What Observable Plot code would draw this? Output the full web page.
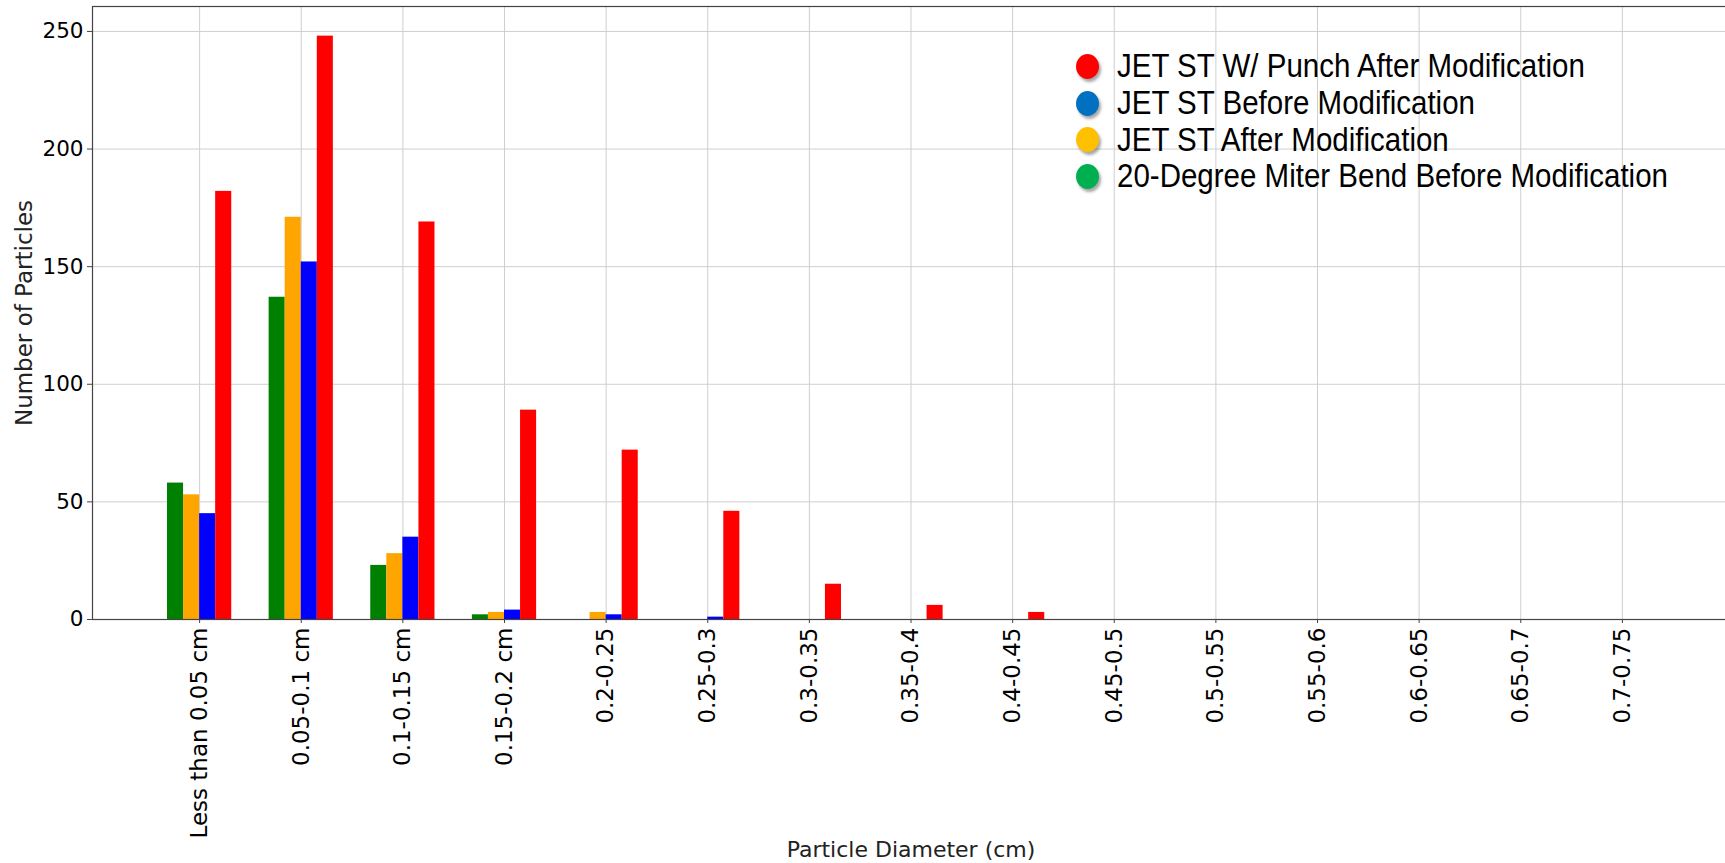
<!DOCTYPE html>
<html>
<head>
<meta charset="utf-8">
<script src="https://cdn.jsdelivr.net/npm/d3@7"></script>
<script src="https://cdn.jsdelivr.net/npm/@observablehq/plot@0.6"></script>
<style>
  html, body { margin: 0; padding: 0; background: #fff; overflow: hidden; }
  #wrap { position: relative; width: 1725px; height: 863px; overflow: hidden; }
  #wrap svg { max-width: none; display: block; }
  #legend { position: absolute; left: 1076px; top: 48px; font-family: "Liberation Sans", Arial, sans-serif; font-size: 29.5px; color: #000; }
  .row { display: flex; align-items: center; height: 36.7px; white-space: nowrap; }
  .row span.t { display: inline-block; transform: scaleY(1.1); transform-origin: center; }
  .mk { width: 23px; height: 25px; border-radius: 50%; box-shadow: 2px 3px 3px rgba(0,0,0,0.35); margin-right: 18px; flex: none; }
</style>
</head>
<body>
<div id="wrap"></div>
<script>
// ---- data ----
const categories = ["Less than 0.05 cm", "0.05-0.1 cm", "0.1-0.15 cm", "0.15-0.2 cm", "0.2-0.25", "0.25-0.3", "0.3-0.35", "0.35-0.4", "0.4-0.45", "0.45-0.5", "0.5-0.55", "0.55-0.6", "0.6-0.65", "0.65-0.7", "0.7-0.75"];
const miterBefore = [58, 137, 23, 2, 0, 0, 0, 0, 0, 0, 0, 0, 0, 0, 0];
const jetAfter    = [53, 171, 28, 3, 3, 0, 0, 0, 0, 0, 0, 0, 0, 0, 0];
const jetBefore   = [45, 152, 35, 4, 2, 1, 0, 0, 0, 0, 0, 0, 0, 0, 0];
const jetPunch    = [182, 248, 169, 89, 72, 46, 15, 6, 3, 0, 0, 0, 0, 0, 0];
const seriesNames = ["20-Degree Miter Bend Before Modification", "JET ST After Modification", "JET ST Before Modification", "JET ST W/ Punch After Modification"];
const seriesValues = [miterBefore, jetAfter, jetBefore, jetPunch];
const barColors = ["#008000", "#ffa500", "#0000ff", "#ff0000"];
const legendNames = ["JET ST W/ Punch After Modification", "JET ST Before Modification", "JET ST After Modification", "20-Degree Miter Bend Before Modification"];
const legendColors = ["#ff0000", "#0070c0", "#ffc000", "#00b050"];
const yTicks = [0, 50, 100, 150, 200, 250];
const xLabel = "Particle Diameter (cm)";
const yLabel = "Number of Particles";

// ---- build table ----
const barW = 0.158;
const table = [];
seriesValues.forEach((vals, k) => {
  vals.forEach((v, i) => {
    table.push({series: seriesNames[k], x1: i + (k - 2) * barW, x2: i + (k - 1) * barW, y: v});
  });
});
const idx = d3.range(categories.length);

const chart = Plot.plot({
  width: 1725,
  height: 863,
  marginLeft: 92,
  marginRight: -4,
  marginTop: 6,
  marginBottom: 244,
  style: {background: "white", color: "black", fontFamily: "'DejaVu Sans', sans-serif"},
  x: {domain: [-1.054, 15.054]},
  y: {domain: [0, 260.6]},
  color: {domain: seriesNames, range: barColors},
  marks: [
    Plot.gridX(idx, {stroke: "#cfcfcf", strokeOpacity: 1, strokeWidth: 1}),
    Plot.gridY(yTicks, {stroke: "#cfcfcf", strokeOpacity: 1, strokeWidth: 1}),
    Plot.rectY(table, {x1: "x1", x2: "x2", y: "y", fill: "series", inset: 0}),
    Plot.frame({stroke: "#444", strokeWidth: 1.2}),
    Plot.axisX(idx, {tickFormat: (i) => categories[i], tickRotate: -90, tickSize: 4, tickPadding: 4, fontSize: 23, stroke: "#444", label: null}),
    Plot.axisY(yTicks, {tickSize: 5, tickPadding: 4, fontSize: 21.5, stroke: "#444", label: null}),
    Plot.text([yLabel], {frameAnchor: "left", dx: -68, rotate: -90, fontSize: 23, textAnchor: "middle", lineAnchor: "middle", fill: "#222"}),
    Plot.text([xLabel], {frameAnchor: "bottom", dy: 230, fontSize: 22, textAnchor: "middle", lineAnchor: "middle", fill: "#222"})
  ]
});
document.getElementById("wrap").appendChild(chart);

// ---- legend overlay ----
const lg = document.createElement("div");
lg.id = "legend";
legendNames.forEach((n, i) => {
  const r = document.createElement("div");
  r.className = "row";
  const m = document.createElement("span");
  m.className = "mk";
  m.style.background = legendColors[i];
  const t = document.createElement("span");
  t.className = "t";
  t.textContent = n;
  r.appendChild(m); r.appendChild(t);
  lg.appendChild(r);
});
document.getElementById("wrap").appendChild(lg);
</script>
</body>
</html>
